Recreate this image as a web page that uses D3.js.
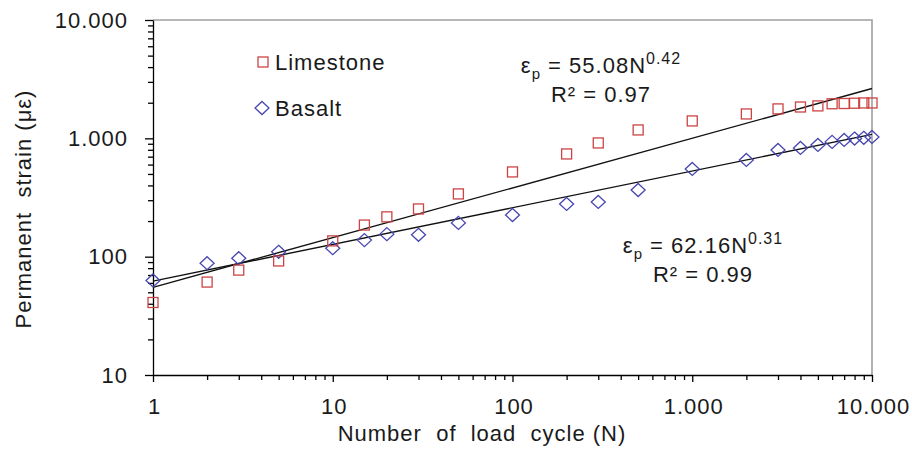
<!DOCTYPE html>
<html>
<head>
<meta charset="utf-8">
<script src="https://cdn.jsdelivr.net/npm/d3@7"></script>
<style>
  html, body { margin: 0; padding: 0; background: #fff; }
  svg { display: block; font-family: "Liberation Sans", Arial, sans-serif; }
  text { letter-spacing: 1px; }
</style>
</head>
<body>
<svg id="chart" width="912" height="465"></svg>
<script>
// Load cycles (N) and measured permanent strain (µε)
const cycles    = [1, 2, 3, 5, 10, 15, 20, 30, 50, 100, 200, 300, 500, 1000, 2000, 3000, 4000, 5000, 6000, 7000, 8000, 9000, 10000];
const limestone = [41, 61, 77, 92, 136, 185, 217, 253, 339, 520, 738, 914, 1177, 1403, 1607, 1773, 1840, 1880, 1960, 1970, 1980, 1990, 1990];
const basalt    = [63, 88, 97, 110, 118, 138, 155, 153, 193, 225, 279, 290, 366, 551, 657, 798, 830, 880, 933, 970, 995, 1010, 1028];

// Power-law fits shown on the chart: eps = a * N^b
const fitLimestone = { a: 55.08, b: 0.42, r2: "0.97" };
const fitBasalt    = { a: 62.16, b: 0.31, r2: "0.99" };

const xTicks = [1, 10, 100, 1000, 10000];
const yTicks = [10, 100, 1000, 10000];

const plot = { left: 153, right: 872, top: 20, bottom: 375 };

const svg = d3.select("#chart");

const x = d3.scaleLog().domain([1, 10000]).range([plot.left, plot.right]);
const y = d3.scaleLog().domain([10, 10000]).range([plot.bottom, plot.top]);

// European style thousands separator: 10.000
const fmt = d3.formatLocale({ decimal: ",", thousands: ".", grouping: [3], currency: ["", ""] }).format(",");

const textColor = "#1a1a1a";

// Plot area outline (top + right in grey)
svg.append("path")
  .attr("d", `M${plot.left},${plot.top}H${plot.right}V${plot.bottom}`)
  .attr("fill", "none")
  .attr("stroke", "#a0a0a0")
  .attr("stroke-width", 1.6);

// Minor ticks
const minorX = x.ticks().filter(v => !xTicks.includes(v));
const minorY = y.ticks().filter(v => !yTicks.includes(v));

const gx = svg.append("g").attr("transform", `translate(0,${plot.bottom})`);
gx.call(d3.axisBottom(x).tickValues(minorX).tickSize(5).tickFormat(""));
gx.call(g => g.select(".domain").remove());
const gxMajor = svg.append("g").attr("transform", `translate(0,${plot.bottom})`);
gxMajor.call(d3.axisBottom(x).tickValues(xTicks).tickSize(7).tickSizeOuter(0).tickPadding(16).tickFormat(fmt));

const gy = svg.append("g").attr("transform", `translate(${plot.left},0)`);
gy.call(d3.axisLeft(y).tickValues(minorY).tickSize(5).tickFormat(""));
gy.call(g => g.select(".domain").remove());
const gyMajor = svg.append("g").attr("transform", `translate(${plot.left},0)`);
gyMajor.call(d3.axisLeft(y).tickValues(yTicks).tickSize(8).tickSizeOuter(0).tickPadding(17).tickFormat(fmt));

svg.selectAll(".tick line, .domain").attr("stroke", "#000").attr("stroke-width", 1.3);
svg.selectAll(".tick text")
  .attr("font-family", "Liberation Sans, Arial, sans-serif")
  .attr("font-size", 22)
  .attr("fill", textColor);
// compensate trailing letter-spacing on centred labels
gxMajor.selectAll(".tick text").attr("dx", 1);

// Axis titles
svg.append("text")
  .attr("x", 482).attr("y", 441)
  .attr("text-anchor", "middle")
  .attr("font-size", 22)
  .attr("fill", textColor)
  .attr("xml:space", "preserve")
  .text("Number  of  load  cycle (N)");

svg.append("text")
  .attr("transform", "translate(31,209) rotate(-90)")
  .attr("text-anchor", "middle")
  .attr("font-size", 22)
  .attr("fill", textColor)
  .attr("xml:space", "preserve")
  .text("Permanent  strain (με)");

// Trend lines
const fitLine = fit => d3.line()
  .x(d => x(d))
  .y(d => y(fit.a * Math.pow(d, fit.b)));
const fitN = [1, 10000];
[fitLimestone, fitBasalt].forEach(fit => {
  svg.append("path")
    .attr("d", fitLine(fit)(fitN))
    .attr("fill", "none")
    .attr("stroke", "#111")
    .attr("stroke-width", 1.4);
});

// Markers
const red = "#cc4444", blue = "#4646b0";
const square = (g, cx, cy) => g.append("rect")
  .attr("x", cx - 5).attr("y", cy - 5)
  .attr("width", 10).attr("height", 10)
  .attr("fill", "none").attr("stroke", red).attr("stroke-width", 1.3);
const diamond = (g, cx, cy) => g.append("path")
  .attr("d", `M${cx},${cy - 6.5}L${cx + 7},${cy}L${cx},${cy + 6.5}L${cx - 7},${cy}Z`)
  .attr("fill", "none").attr("stroke", blue).attr("stroke-width", 1.3);

const marks = svg.append("g");
cycles.forEach((n, i) => diamond(marks, x(n), y(basalt[i])));
cycles.forEach((n, i) => square(marks, x(n), y(limestone[i])));

// Legend
const legend = svg.append("g");
square(legend, 263, 62);
legend.append("text").attr("x", 275).attr("y", 70)
  .attr("font-size", 22).attr("fill", textColor).text("Limestone");
diamond(legend, 262, 108);
legend.append("text").attr("x", 275).attr("y", 116)
  .attr("font-size", 22).attr("fill", textColor).text("Basalt");

// Fit equations
function equation(cx, y0, fit) {
  const t = svg.append("text")
    .attr("x", cx).attr("y", y0)
    .attr("text-anchor", "middle")
    .attr("font-size", 22).attr("fill", textColor);
  t.append("tspan").text("ε");
  t.append("tspan").attr("font-size", 15).attr("dy", 6).text("p");
  t.append("tspan").attr("dy", -6).text(` = ${fit.a.toFixed(2)}N`);
  t.append("tspan").attr("font-size", 16).attr("dy", -9).text(fit.b.toFixed(2));
  svg.append("text")
    .attr("x", cx).attr("y", y0 + 29)
    .attr("text-anchor", "middle")
    .attr("font-size", 22).attr("fill", textColor)
    .text(`R² = ${fit.r2}`);
}
equation(601, 73, fitLimestone);
equation(703, 253, fitBasalt);
</script>
</body>
</html>
